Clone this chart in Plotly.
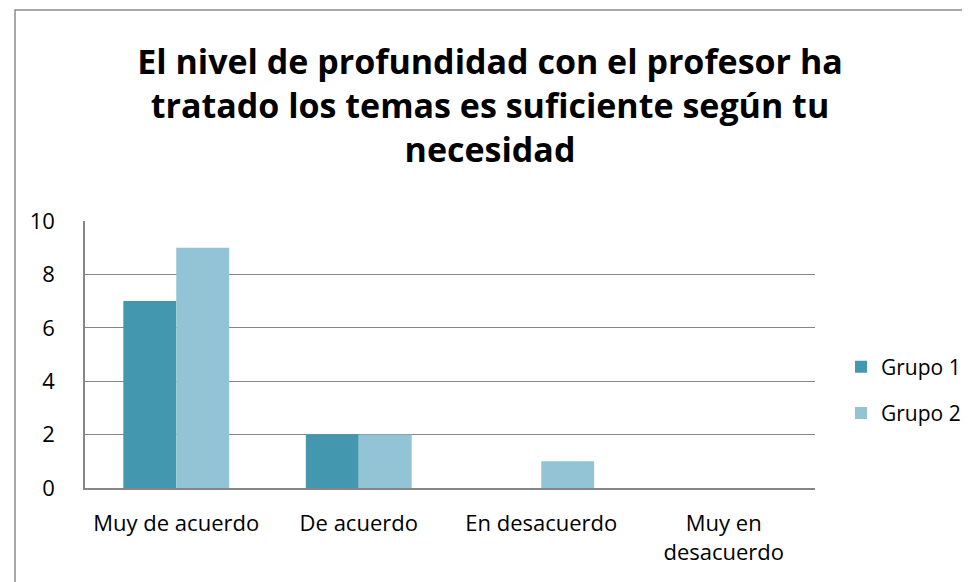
import plotly.graph_objects as go

categories = ["Muy de acuerdo", "De acuerdo", "En desacuerdo", "Muy en desacuerdo"]
tick_labels = ["Muy de acuerdo", "De acuerdo", "En desacuerdo", "Muy en<br>desacuerdo"]
grupo1 = [7, 2, 0, 0]
grupo2 = [9, 2, 1, 0]
series_names = ["Grupo 1", "Grupo 2"]
y_ticks = [0, 2, 4, 6, 8, 10]

W, H = 970, 582
OFF = 8  # page body margin
L, R, T, B = 85 - OFF, 815 - OFF, 221 - OFF, 488 - OFF  # plot area in figure pixels
pw, ph = R - L, B - T

def px_x(x):
    return (x - OFF - L) / pw

def px_y(y):
    return (B - (y - OFF)) / ph

FONT = "Open Sans, Noto Sans, sans-serif"

fig = go.Figure()
fig.add_trace(go.Bar(x=categories, y=grupo1, name=series_names[0], marker_color="#4398B0",
                     marker_line_width=0, legendgroup="g1"))
fig.add_trace(go.Bar(x=categories, y=grupo2, name=series_names[1], marker_color="#93C4D6",
                     marker_line_width=0, legendgroup="g2"))

fig.update_layout(
    width=W, height=H,
    margin=dict(l=L, r=W - R, t=T, b=H - B, pad=0, autoexpand=False),
    paper_bgcolor="white", plot_bgcolor="white",
    barmode="group", bargap=0.42, bargroupgap=0,
    font=dict(family=FONT, color="#000000", size=22),
    title=dict(
        text="<b>El nivel de profundidad con el profesor ha<br>tratado los temas es suficiente según tu<br>necesidad</b>",
        x=(490 - OFF) / W, xanchor="center", xref="container",
        y=1 - 66 / H, yanchor="top", yref="container",
        font=dict(family=FONT, size=34, color="#000000"),
    ),
    legend=dict(x=(841 - OFF) / W, xref="container", xanchor="left",
                y=px_y(390), yanchor="middle",
                font=dict(size=21), tracegroupgap=16, bgcolor="rgba(0,0,0,0)"),
    xaxis=dict(tickmode="array", tickvals=categories, ticktext=tick_labels,
               showline=True, linecolor="#868686", linewidth=1.5, ticks="",
               showgrid=False, ticklabelstandoff=15, tickfont=dict(size=22)),
    yaxis=dict(range=[0, 10], tickvals=y_ticks, showline=True, linecolor="#868686", linewidth=1.5,
               showgrid=True, gridcolor="#868686", gridwidth=1.2, ticks="",
               zeroline=False, ticklabelstandoff=24, tickfont=dict(size=22)),
    shapes=[dict(type="rect", xref="paper", yref="paper",
                 x0=px_x(15), x1=px_x(1000), y0=px_y(620), y1=px_y(10),
                 line=dict(color="#8C8C8C", width=1.5), fillcolor="rgba(0,0,0,0)", layer="below")],
)

fig.write_html("out.html")
